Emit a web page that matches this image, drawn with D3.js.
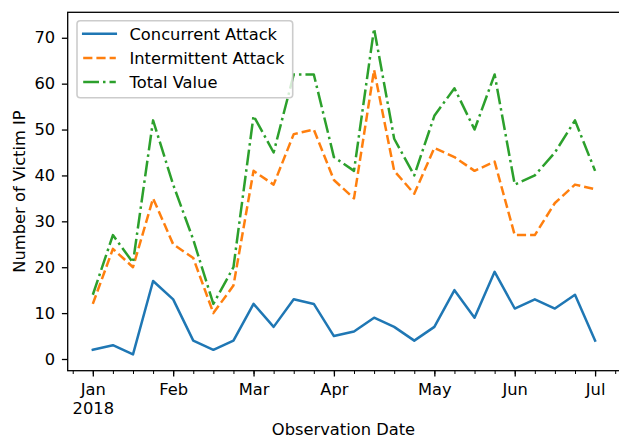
<!DOCTYPE html>
<html>
<head>
<meta charset="utf-8">
<script src="https://cdn.jsdelivr.net/npm/d3@7"></script>
<style>
  html, body { margin: 0; padding: 0; background: #fff; }
  svg { display: block; }
  text { font-family: "DejaVu Sans", sans-serif; fill: #000; }
</style>
</head>
<body>
<svg id="chart" width="619" height="438"></svg>
<script>
// Weekly observation periods (Monday of each week)
const weeks = [
  "2018-01-01","2018-01-08","2018-01-15","2018-01-22","2018-01-29",
  "2018-02-05","2018-02-12","2018-02-19","2018-02-26",
  "2018-03-05","2018-03-12","2018-03-19","2018-03-26",
  "2018-04-02","2018-04-09","2018-04-16","2018-04-23","2018-04-30",
  "2018-05-07","2018-05-14","2018-05-21","2018-05-28",
  "2018-06-04","2018-06-11","2018-06-18","2018-06-25"
];
const concurrent   = [2, 3, 1, 17, 13, 4, 2, 4, 12, 7, 13, 12, 5, 6, 9, 7, 4, 7, 15, 9, 19, 11, 13, 11, 14, 4];
const intermittent = [12, 24, 20, 35, 25, 22, 10, 16, 41, 38, 49, 50, 39, 35, 63, 41, 36, 46, 44, 41, 43, 27, 27, 34, 38, 37];
const total        = [14, 27, 21, 52, 38, 26, 12, 20, 53, 45, 62, 62, 44, 41, 72, 48, 40, 53, 59, 50, 62, 38, 40, 45, 52, 41];

const monthStarts = ["2018-01-01","2018-02-01","2018-03-01","2018-04-01","2018-05-01","2018-06-01","2018-07-01"];
const monthLabels = [["Jan","2018"],["Feb"],["Mar"],["Apr"],["May"],["Jun"],["Jul"]];
const yTicks = [0, 10, 20, 30, 40, 50, 60, 70];

const seriesNames = ["Concurrent Attack", "Intermittent Attack", "Total Value"];
const seriesColors = ["#1f77b4", "#ff7f0e", "#2ca02c"];
const seriesDash = [null, "9.2,4", "15.8,4,2.5,4"];

const FS = 16.3;
const LW = 2.5;

const parse = d3.utcParse("%Y-%m-%d");
const dates = weeks.map(parse);

const plot = { left: 67.7, right: 620.2, top: 12.3, bottom: 370.7 };

const svg = d3.select("#chart");

// x: weekly periods, with 5% margin on both sides
const span = dates[dates.length - 1] - dates[0];
const x = d3.scaleUtc()
  .domain([new Date(+dates[0] - 0.05 * span), new Date(+dates[dates.length - 1] + 0.05 * span)])
  .range([plot.left, plot.right]);

const allVals = concurrent.concat(intermittent, total);
const yMin = d3.min(allVals), yMax = d3.max(allVals);
const yPad = 0.05 * (yMax - yMin);
const y = d3.scaleLinear()
  .domain([yMin - yPad, yMax + yPad])
  .range([plot.bottom, plot.top]);

// Lines
const line = d3.line()
  .x((d, i) => x(dates[i]))
  .y(d => y(d));

[concurrent, intermittent, total].forEach((vals, k) => {
  svg.append("path")
    .datum(vals)
    .attr("d", line)
    .attr("fill", "none")
    .attr("stroke", seriesColors[k])
    .attr("stroke-width", LW)
    .attr("stroke-linejoin", "round")
    .attr("stroke-linecap", k === 0 ? "square" : "butt")
    .attr("stroke-dasharray", seriesDash[k]);
});

// Spines
svg.append("rect")
  .attr("x", plot.left).attr("y", plot.top)
  .attr("width", plot.right - plot.left).attr("height", plot.bottom - plot.top)
  .attr("fill", "none").attr("stroke", "#000").attr("stroke-width", 1.3);

// y axis
const yAxis = d3.axisLeft(y).tickValues(yTicks).tickSize(5.8).tickPadding(5.8);
const gy = svg.append("g").attr("transform", `translate(${plot.left},0)`).call(yAxis);
gy.select(".domain").remove();
gy.selectAll(".tick line").attr("stroke", "#000").attr("stroke-width", 1.3);
gy.selectAll(".tick text").attr("font-size", FS).attr("font-family", "DejaVu Sans").attr("dx", "-1");

// x axis: weekly minor ticks, month ticks at the week containing the 1st
const minorWeeks = d3.utcMonday.range(x.domain()[0], x.domain()[1]);
const gxMinor = svg.append("g").attr("transform", `translate(0,${plot.bottom})`)
  .call(d3.axisBottom(x).tickValues(minorWeeks).tickSize(3.3).tickFormat(""));
gxMinor.select(".domain").remove();
gxMinor.selectAll(".tick line").attr("stroke", "#000").attr("stroke-width", 1);

const majorWeeks = monthStarts.map(s => d3.utcMonday.floor(parse(s)));
const gx = svg.append("g").attr("transform", `translate(0,${plot.bottom})`)
  .call(d3.axisBottom(x).tickValues(majorWeeks).tickSize(5.8).tickPadding(5.8).tickFormat(""));
gx.select(".domain").remove();
gx.selectAll(".tick line").attr("stroke", "#000").attr("stroke-width", 1.3);
gx.selectAll(".tick").each(function(d, i) {
  const t = d3.select(this).append("text")
    .attr("text-anchor", "middle")
    .attr("font-size", FS)
    .attr("y", 24.8);
  monthLabels[i].forEach((s, j) => {
    t.append("tspan").attr("x", 0).attr("dy", j === 0 ? 0 : 18.5).text(s);
  });
});

// Axis titles
svg.append("text")
  .attr("x", (plot.left + plot.right) / 2 - 0.5)
  .attr("y", 434.5)
  .attr("text-anchor", "middle")
  .attr("font-size", FS)
  .text("Observation Date");

svg.append("text")
  .attr("transform", `translate(25,${(plot.top + plot.bottom) / 2}) rotate(-90)`)
  .attr("text-anchor", "middle")
  .attr("font-size", FS)
  .text("Number of Victim IP");

// Legend
const lg = svg.append("g");
lg.append("rect")
  .attr("x", 77).attr("y", 20.7)
  .attr("width", 215.7).attr("height", 77)
  .attr("rx", 3.3).attr("ry", 3.3)
  .attr("fill", "#fff").attr("fill-opacity", 0.8)
  .attr("stroke", "#cccccc").attr("stroke-width", 1.6);

seriesNames.forEach((name, k) => {
  const cy = 33.7 + k * 24.2;
  lg.append("line")
    .attr("x1", 83.2).attr("x2", 115.8)
    .attr("y1", cy).attr("y2", cy)
    .attr("stroke", seriesColors[k])
    .attr("stroke-width", LW)
    .attr("stroke-linecap", k === 0 ? "square" : "butt")
    .attr("stroke-dasharray", seriesDash[k]);
  lg.append("text")
    .attr("x", 129.5).attr("y", cy)
    .attr("dy", "0.36em")
    .attr("font-size", FS)
    .text(name);
});
</script>
</body>
</html>
